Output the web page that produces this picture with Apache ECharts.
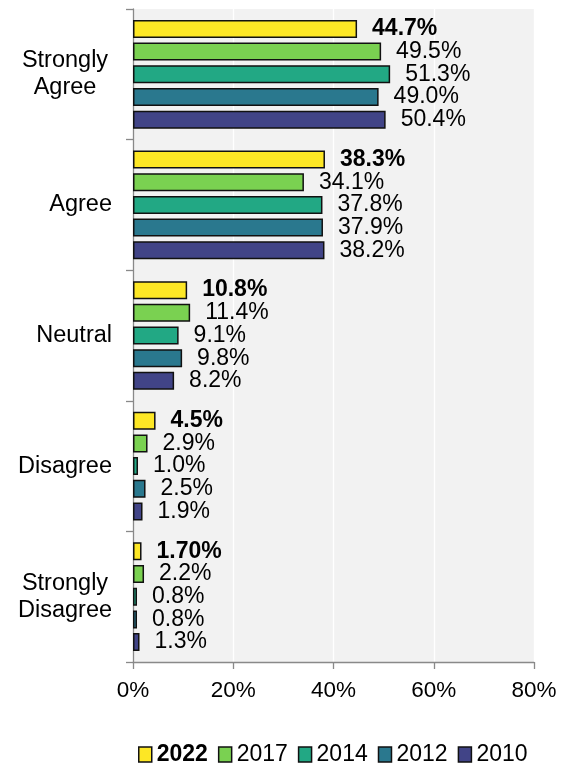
<!DOCTYPE html>
<html><head><meta charset="utf-8">
<script src="https://cdn.jsdelivr.net/npm/echarts@6/dist/echarts.min.js"></script>
<style>html,body{margin:0;padding:0;background:#fff}#c{width:561px;height:767px}</style>
</head><body><div id="c"></div>
<script>
var categories = ['Strongly Agree', 'Agree', 'Neutral', 'Disagree', 'Strongly Disagree'];
var seriesNames = ['2022', '2017', '2014', '2012', '2010'];
var v2022 = [44.7, 38.3, 10.8, 4.5, 1.70];
var v2017 = [49.5, 34.1, 11.4, 2.9, 2.2];
var v2014 = [51.3, 37.8, 9.1, 1.0, 0.8];
var v2012 = [49.0, 37.9, 9.8, 2.5, 0.8];
var v2010 = [50.4, 38.2, 8.2, 1.9, 1.3];
var labels2022 = ['44.7%', '38.3%', '10.8%', '4.5%', '1.70%'];
var xTicks = [0, 20, 40, 60, 80];
var colors = ['#FDE725', '#7AD151', '#22A884', '#2A788E', '#414487'];

var FONT = 'Liberation Sans, Arial, sans-serif';
var allValues = [v2022, v2017, v2014, v2012, v2010];

var series = seriesNames.map(function (name, i) {
  return {
    name: name,
    type: 'bar',
    data: allValues[i],
    barWidth: 18,
    barGap: '26%',
    itemStyle: { color: colors[i], borderColor: '#111', borderWidth: 1.5 },
    label: {
      show: true,
      position: 'right',
      distance: 15,
      fontFamily: FONT,
      fontSize: 23,
      color: '#000',
      fontWeight: i === 0 ? 'bold' : 'normal',
      formatter: function (p) {
        return i === 0 ? labels2022[p.dataIndex] : p.value.toFixed(1) + '%';
      }
    }
  };
});

var chart = echarts.init(document.getElementById('c'), null, { renderer: 'canvas' });
chart.setOption({
  animation: false,
  backgroundColor: '#fff',
  textStyle: { fontFamily: FONT },
  grid: { left: 133, right: 27, top: 9, bottom: 105, show: true, backgroundColor: '#F2F2F2', borderWidth: 0 },
  xAxis: {
    type: 'value',
    min: xTicks[0],
    max: xTicks[xTicks.length - 1],
    interval: 20,
    axisLine: { show: true, lineStyle: { color: '#898989', width: 1.3 } },
    axisTick: { show: true, length: 7, lineStyle: { color: '#898989', width: 1.3 } },
    splitLine: { show: true, lineStyle: { color: '#ffffff', width: 1.3 } },
    axisLabel: { fontFamily: FONT, fontSize: 22.5, color: '#000', margin: 17, formatter: function (v) { return v + '%'; } }
  },
  yAxis: {
    type: 'category',
    inverse: true,
    data: categories,
    axisLine: { show: true, lineStyle: { color: '#898989', width: 1.3 } },
    axisTick: { show: true, length: 7, lineStyle: { color: '#898989', width: 1.3 } },
    axisLabel: {
      fontFamily: FONT, fontSize: 23.5, color: '#000', margin: 21, align: 'right', lineHeight: 27,
      formatter: function (v) {
        if (v.indexOf('Strongly ') === 0) {
          return '{c|Strongly}\n{c|' + v.substring(9) + '}';
        }
        return v;
      },
      rich: { c: { width: 94, align: 'center', fontSize: 23.5, lineHeight: 27, color: '#000', fontFamily: FONT } }
    }
  },
  legend: {
    data: seriesNames,
    left: 133,
    top: 738,
    itemWidth: 13,
    itemHeight: 15,
    itemGap: 10,
    icon: 'rect',
    itemStyle: { borderColor: '#111', borderWidth: 1.5 },
    textStyle: { fontFamily: FONT, fontSize: 23, color: '#000', rich: { b: { fontWeight: 'bold', fontSize: 23, fontFamily: FONT, color: '#000' } } },
    formatter: function (name) { return name === '2022' ? '{b|' + name + '}' : name; }
  },
  series: series
});
</script>
</body></html>
